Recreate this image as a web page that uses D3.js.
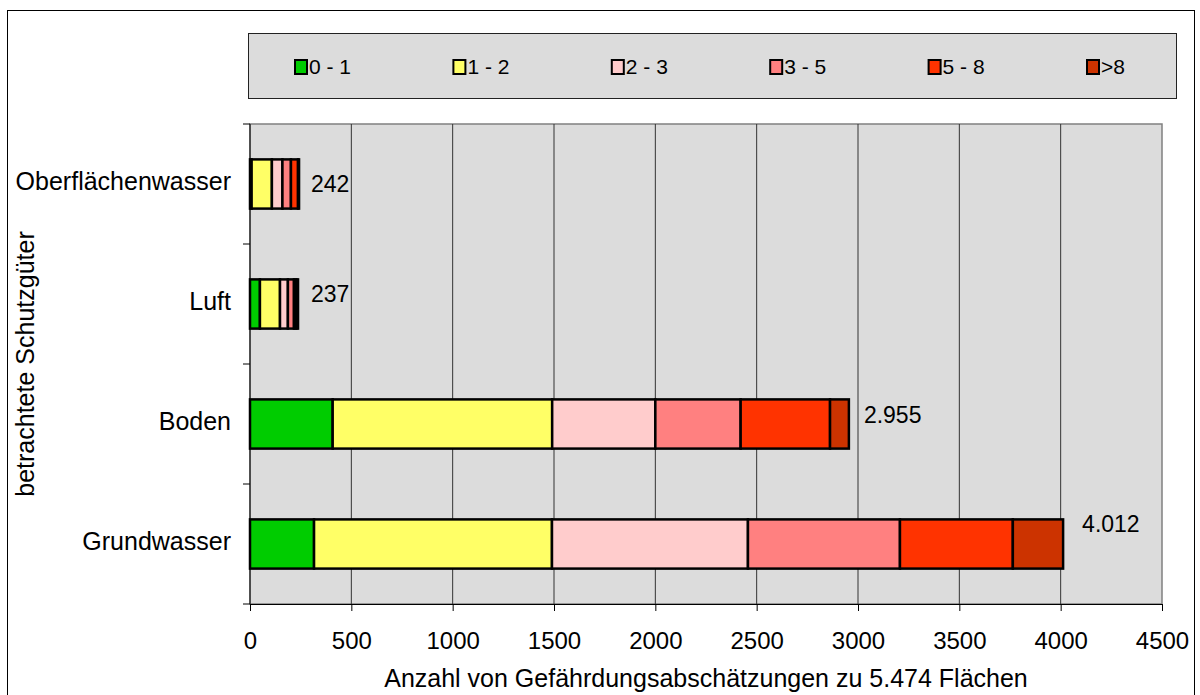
<!DOCTYPE html>
<html>
<head>
<meta charset="utf-8">
<script src="https://cdn.jsdelivr.net/npm/d3@7"></script>
<style>
  body { margin: 0; background: #fff; }
  svg text { font-family: "Liberation Sans", Arial, sans-serif; fill: #000; }
</style>
</head>
<body>
<div id="chart"></div>
<script>
// categories (top to bottom)
const categories = ['Oberflächenwasser', 'Luft', 'Boden', 'Grundwasser'];
const classes = ['0 - 1', '1 - 2', '2 - 3', '3 - 5', '5 - 8', '>8'];
const colors = ['#00cc00', '#ffff66', '#ffcccc', '#ff8080', '#ff3300', '#cc3300'];

// values per class, in category order
const s01 = [8, 49, 408, 316];
const s12 = [100, 99, 1083, 1174];
const s23 = [52, 39, 509, 967];
const s35 = [42, 30, 421, 750];
const s58 = [35, 12, 441, 557];
const s8 = [5, 8, 93, 248];
const totalLabels = ['242', '237', '2.955', '4.012'];
const xTicks = [0, 500, 1000, 1500, 2000, 2500, 3000, 3500, 4000, 4500];

const width = 1200;
const height = 695;
const plot = { left: 250, right: 1162, top: 124, bottom: 604 };

const series = [s01, s12, s23, s35, s58, s8];
const rows = categories.map((c, i) => {
    const r = { cat: c };
    classes.forEach((k, j) => r[k] = series[j][i]);
    return r;
});
const stacked = d3.stack().keys(classes)(rows);

const svg = d3.select('#chart')
    .append('svg')
    .attr('width', width)
    .attr('height', height);

// outer frame
svg.append('rect')
    .attr('x', 7.5).attr('y', 10.5)
    .attr('width', 1187).attr('height', 700)
    .attr('fill', '#fff').attr('stroke', '#000').attr('stroke-width', 1);

const xScale = d3.scaleLinear()
    .domain([0, 4500])
    .range([plot.left, plot.right]);

const yScale = d3.scaleBand()
    .domain(categories)
    .range([plot.top, plot.bottom])
    .paddingInner(0.59)
    .paddingOuter(0.295);

const yBands = d3.scaleBand().domain(categories).range([plot.top, plot.bottom]);

const colorScale = d3.scaleOrdinal().domain(classes).range(colors);

// plot background
svg.append('rect')
    .attr('x', plot.left).attr('y', plot.top)
    .attr('width', plot.right - plot.left).attr('height', plot.bottom - plot.top)
    .attr('fill', '#dcdcdc').attr('stroke', '#808080').attr('stroke-width', 1.5);

// gridlines
svg.append('g')
    .selectAll('line')
    .data(xTicks.slice(1, -1))
    .enter()
    .append('line')
    .attr('x1', d => xScale(d)).attr('x2', d => xScale(d))
    .attr('y1', plot.top).attr('y2', plot.bottom)
    .attr('stroke', '#333').attr('stroke-width', 1);

// x axis
const xAxis = svg.append('g')
    .attr('transform', `translate(0,${plot.bottom})`)
    .call(d3.axisBottom(xScale).tickValues(xTicks).tickFormat(d3.format('d'))
        .tickSize(7).tickPadding(21).tickSizeOuter(0));
xAxis.attr('font-size', null).attr('font-family', null);
xAxis.select('.domain').attr('stroke', '#000');
xAxis.selectAll('line').attr('stroke', '#000');
xAxis.selectAll('text').style('font-size', '24px').attr('fill', '#000');

// y axis: ticks at band boundaries
svg.append('line')
    .attr('x1', plot.left).attr('x2', plot.left)
    .attr('y1', plot.top).attr('y2', plot.bottom)
    .attr('stroke', '#000');
const bounds = categories.map(c => yBands(c)).concat([plot.bottom]);
svg.append('g')
    .selectAll('line')
    .data(bounds)
    .enter()
    .append('line')
    .attr('x1', plot.left - 7).attr('x2', plot.left)
    .attr('y1', d => d).attr('y2', d => d)
    .attr('stroke', '#000');

svg.append('g')
    .selectAll('text')
    .data(categories)
    .enter()
    .append('text')
    .attr('x', plot.left - 19)
    .attr('y', d => yBands(d) + yBands.bandwidth() / 2 - 3)
    .attr('dy', '.35em')
    .attr('text-anchor', 'end')
    .style('font-size', '25px')
    .text(d => d);

// bars
svg.append('g')
    .selectAll('g')
    .data(stacked)
    .enter()
    .append('g')
    .attr('fill', d => colorScale(d.key))
    .selectAll('rect')
    .data(d => d)
    .enter()
    .append('rect')
    .attr('x', d => xScale(d[0]))
    .attr('y', d => yScale(d.data.cat))
    .attr('width', d => xScale(d[1]) - xScale(d[0]))
    .attr('height', yScale.bandwidth())
    .attr('stroke', '#000')
    .attr('stroke-width', 2.5);

// total labels
const totals = rows.map(r => d3.sum(classes, k => r[k]));
const labelDx = [12, 13, 15, 19];
const labelDy = [25, 15, 16, 5];
svg.append('g')
    .selectAll('text')
    .data(categories)
    .enter()
    .append('text')
    .attr('x', (d, i) => xScale(totals[i]) + labelDx[i])
    .attr('y', (d, i) => yScale(d) + labelDy[i])
    .attr('dy', '.35em')
    .style('font-size', '23px')
    .text((d, i) => totalLabels[i]);

// axis titles
svg.append('text')
    .attr('x', 706)
    .attr('y', 687)
    .attr('text-anchor', 'middle')
    .style('font-size', '25px')
    .text('Anzahl von Gefährdungsabschätzungen zu 5.474 Flächen');

svg.append('text')
    .attr('transform', `translate(34,${(plot.top + plot.bottom) / 2}) rotate(-90)`)
    .attr('text-anchor', 'middle')
    .style('font-size', '25px')
    .text('betrachtete Schutzgüter');

// legend
svg.append('rect')
    .attr('x', 248.5).attr('y', 33.5)
    .attr('width', 928).attr('height', 65)
    .attr('fill', '#dcdcdc').attr('stroke', '#222').attr('stroke-width', 1);

const legendX = d3.scalePoint().domain(classes).range([295, 1087]);
const items = svg.append('g')
    .selectAll('g')
    .data(classes)
    .enter()
    .append('g')
    .attr('transform', d => `translate(${legendX(d)},60)`);
items.append('rect')
    .attr('width', 12).attr('height', 14)
    .attr('fill', d => colorScale(d))
    .attr('stroke', '#000').attr('stroke-width', 2);
items.append('text')
    .attr('x', 14).attr('y', 7)
    .attr('dy', '.35em')
    .style('font-size', '21px')
    .text(d => d);
</script>
</body>
</html>
